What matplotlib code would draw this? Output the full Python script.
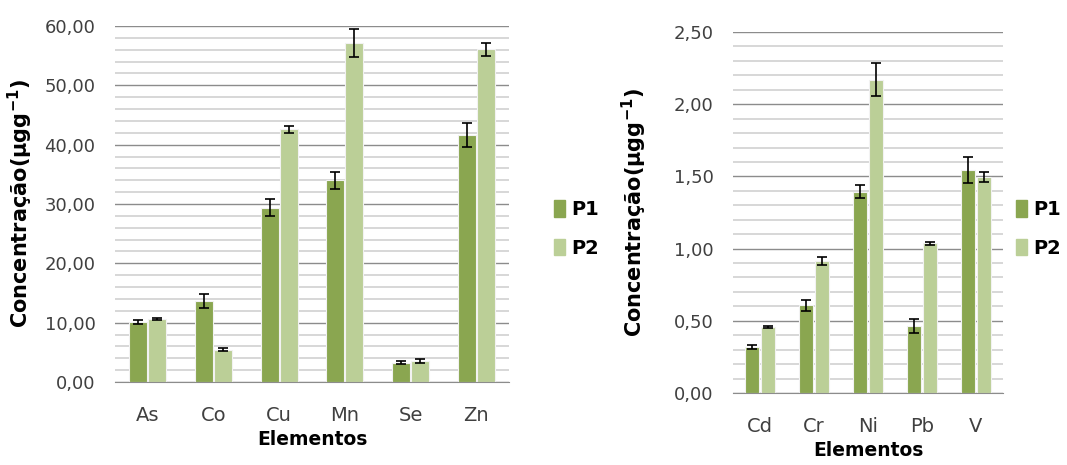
import numpy as np
import matplotlib
matplotlib.use('Agg')
import matplotlib.pyplot as plt
from matplotlib.ticker import MultipleLocator, FuncFormatter
from matplotlib.patches import Patch

# left chart
elem_a = ['As', 'Co', 'Cu', 'Mn', 'Se', 'Zn']
p1_a = [10.1, 13.7, 29.4, 34.0, 3.26, 41.6]
p2_a = [10.6, 5.45, 42.6, 57.1, 3.5, 56.1]
p1_a_err = [0.3, 1.2, 1.5, 1.4, 0.2, 2.0]
p2_a_err = [0.2, 0.3, 0.6, 2.4, 0.3, 1.1]

# right chart
elem_b = ['Cd', 'Cr', 'Ni', 'Pb', 'V']
p1_b = [0.318, 0.607, 1.394, 0.462, 1.544]
p2_b = [0.457, 0.916, 2.17, 1.036, 1.496]
p1_b_err = [0.015, 0.037, 0.045, 0.048, 0.09]
p2_b_err = [0.006, 0.028, 0.113, 0.008, 0.033]

C1 = '#8aa650'
C2 = '#bbcf97'
TXT = '#404040'

W, H = 1067, 465
fig = plt.figure(figsize=(W / 100, H / 100), dpi=100)


def px_axes(x0, y0, x1, y1):
    return fig.add_axes([x0 / W, 1 - y1 / H, (x1 - x0) / W, (y1 - y0) / H])


def draw(ax, cats, v1, v2, e1, e2, ymax, major, minor, width, ylpad):
    x = np.arange(len(cats))
    off = width / 2 + 0.01
    ax.bar(x - off, v1, width, color=C1, edgecolor='#f2f2f2', linewidth=0.8,
           yerr=e1, capsize=3.5, error_kw=dict(ecolor='black', elinewidth=1.2, capthick=1.2),
           zorder=3, label='P1')
    ax.bar(x + off, v2, width, color=C2, edgecolor='#f2f2f2', linewidth=0.8,
           yerr=e2, capsize=3.5, error_kw=dict(ecolor='black', elinewidth=1.2, capthick=1.2),
           zorder=3, label='P2')
    ax.set_xlim(-0.5, len(cats) - 0.5)
    ax.set_ylim(0, ymax)
    ax.yaxis.set_major_locator(MultipleLocator(major))
    ax.yaxis.set_minor_locator(MultipleLocator(minor))
    ax.yaxis.set_major_formatter(FuncFormatter(lambda v, p: f'{v:.2f}'.replace('.', ',')))
    ax.grid(which='minor', axis='y', color='#d4d4d4', linewidth=1.3, zorder=0)
    ax.grid(which='major', axis='y', color='#8c8c8c', linewidth=1.0, zorder=1)
    for s in ['top', 'right', 'left']:
        ax.spines[s].set_visible(False)
    ax.spines['bottom'].set_color('#8c8c8c')
    ax.spines['bottom'].set_zorder(4)
    ax.set_xticks(x)
    ax.set_xticklabels(cats)
    ax.tick_params(axis='both', which='both', length=0, labelsize=13, labelcolor=TXT)
    ax.tick_params(axis='x', pad=17, labelsize=14)
    ax.tick_params(axis='y', pad=14)
    ax.set_xlabel('Elementos', fontsize=13.5, fontweight='bold', color='black', labelpad=4)
    ax.set_ylabel('Concentração(µgg$^{\\mathbf{-1}}$)', fontsize=15, fontweight='bold',
                  color='black', labelpad=ylpad)


ax1 = px_axes(115, 26, 509, 382)
draw(ax1, elem_a, p1_a, p2_a, p1_a_err, p2_a_err, 60, 10, 2, 0.27, 7)

ax2 = px_axes(733, 32, 1003, 393)
draw(ax2, elem_b, p1_b, p2_b, p1_b_err, p2_b_err, 2.5, 0.5, 0.1, 0.26, 18)

handles = [Patch(color=C1, label='P1'), Patch(color=C2, label='P2')]
for xl in [546, 1008]:
    fig.legend(handles=handles, loc='center left',
               bbox_to_anchor=(xl / W, 1 - 229 / H), frameon=False,
               prop=dict(size=14, weight='bold'), handlelength=0.6, handleheight=0.9,
               handletextpad=0.3, labelspacing=1.0, borderpad=0.2, borderaxespad=0.2)

fig.savefig('out.png', dpi=100)
